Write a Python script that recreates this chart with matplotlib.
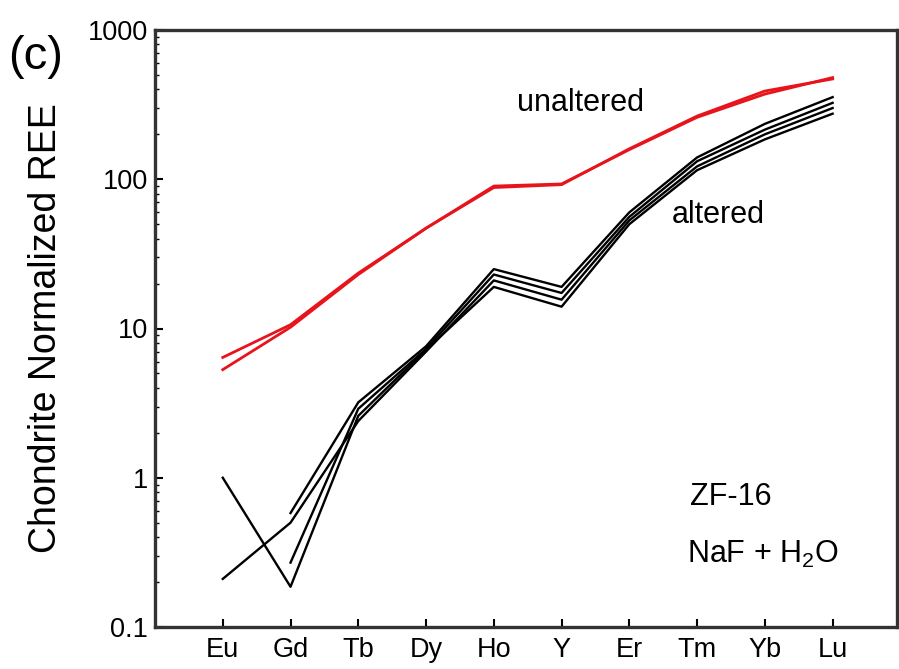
import matplotlib
matplotlib.use("Agg")
import matplotlib.pyplot as plt
import numpy as np

plt.rcParams['font.family'] = ['Liberation Sans', 'DejaVu Sans']
plt.rcParams['mathtext.default'] = 'regular'

elements = ["Eu", "Gd", "Tb", "Dy", "Ho", "Y", "Er", "Tm", "Yb", "Lu"]

# unaltered (red)
unaltered_1 = [6.4, 10.6, 23.5, 47, 88, 92, 160, 265, 390, 470]
unaltered_2 = [5.3, 10.2, 23.0, 47, 90, 93, 158, 260, 372, 480]

# altered (black); None = missing
altered_1 = [1.0, 0.186, 2.6, 7.2, 19.0, 14.0, 50, 115, 185, 275]
altered_2 = [0.21, 0.50, 2.4, 7.0, 21.0, 15.6, 53, 122, 200, 300]
altered_3 = [None, 0.27, 2.9, 7.3, 23.0, 17.3, 56, 132, 215, 325]
altered_4 = [None, 0.58, 3.2, 7.6, 25.0, 19.0, 60, 140, 235, 355]

fig = plt.figure(figsize=(8.99, 6.69), dpi=100)
ax = fig.add_axes([155/899, 42/669, (897-155)/899, (627-30)/669])

x = np.arange(1, len(elements) + 1)

def arr(v):
    return np.array([np.nan if e is None else e for e in v], dtype=float)

for s in [altered_1, altered_2, altered_3, altered_4]:
    ax.plot(x, arr(s), color='black', lw=1.7)
for s in [unaltered_1, unaltered_2]:
    ax.plot(x, arr(s), color='#e8141c', lw=2.0)

ax.set_yscale('log')
ax.set_ylim(0.1, 1000)
ax.set_xlim(0, 10.95)
ax.set_xticks(x)
ax.set_xticklabels(elements)
ax.set_yticks([0.1, 1, 10, 100, 1000])
ax.set_yticklabels(["0.1", "1", "10", "100", "1000"])
ax.tick_params(axis='both', which='major', direction='in', length=6, width=1.5,
               labelsize=19.5, colors='black')
ax.tick_params(axis='y', which='minor', direction='in', length=3, width=1.0)
ax.tick_params(axis='x', which='major', pad=7)
ax.tick_params(axis='y', which='major', pad=5)
for sp in ax.spines.values():
    sp.set_linewidth(2.4)
    sp.set_color('#333333')

ax.set_ylabel("Chondrite Normalized REE", fontsize=27)
ax.yaxis.set_label_coords(-0.122, 0.5)

ax.text(5.34, 324, "unaltered", fontsize=22, va='center', ha='left')
ax.text(7.62, 57.7, "altered", fontsize=22, va='center', ha='left')
ax.text(7.89, 0.745, "ZF-16", fontsize=22, va='center', ha='left')
ax.text(7.85, 0.305, "NaF + H$_2$O", fontsize=22, va='center', ha='left')

fig.text(8/899, 1 - 57/669, "(c)", fontsize=34, va='center', ha='left')

fig.savefig("out.png", dpi=100)
